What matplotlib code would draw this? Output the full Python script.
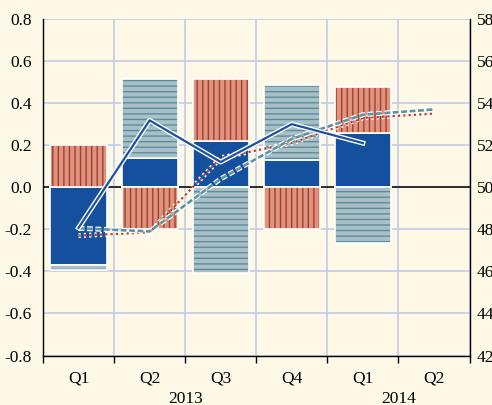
import matplotlib
matplotlib.use('Agg')
import matplotlib.pyplot as plt
import matplotlib.patheffects as pe
from matplotlib.transforms import blended_transform_factory
import numpy as np

# ---- data ----
quarters = ['Q1', 'Q2', 'Q3', 'Q4', 'Q1', 'Q2']
years = ['2013', '2014']
year_centers = [1.5, 4.5]
blue_vals = [-0.37, 0.14, 0.22, 0.13, 0.26]
lightblue_vals = [-0.025, 0.375, -0.41, 0.355, -0.265]
red_vals = [0.20, -0.20, 0.295, -0.20, 0.215]
line_solid = [48.07, 53.18, 51.2, 53.0, 52.1]
line_dotted = [47.7, 47.85, 51.4, 52.1, 53.3, 53.5]
line_dashed = [48.05, 47.9, 50.4, 52.3, 53.45, 53.7]
left_ticks = [-0.8, -0.6, -0.4, -0.2, 0.0, 0.2, 0.4, 0.6, 0.8]
left_labels = ['-0.8', '-0.6', '-0.4', '-0.2', '0.0', '0.2', '0.4', '0.6', '0.8']
right_ticks = [42, 44, 46, 48, 50, 52, 54, 56, 58]
right_labels = ['42', '44', '46', '48', '50', '52', '54', '56', '58']

# ---- style ----
BG = '#fef9e6'
GRID = '#c5cbe6'
BLUE = '#14509e'
RED_FILL = '#d9957f'
RED_HATCH = '#b0382b'
LB_FILL = '#a9bfc8'
LB_HATCH = '#5b8d99'
LINE_BLUE = '#1d4fa3'
LINE_RED = '#c0392b'
LINE_TEAL = '#5a93a3'

plt.rcParams['font.family'] = ['Liberation Serif', 'DejaVu Serif']
plt.rcParams['axes.unicode_minus'] = False
plt.rcParams['hatch.linewidth'] = 1.0

fig = plt.figure(figsize=(4.92, 4.05), dpi=100, facecolor=BG)
L, R, T, B = 43, 469.5, 19, 355.5
ax = fig.add_axes([L / 492, 1 - B / 405, (R - L) / 492, (B - T) / 405])
ax.set_facecolor(BG)

x = np.arange(len(quarters))
width = 0.79

pos_bottom = np.zeros(len(blue_vals))
neg_bottom = np.zeros(len(blue_vals))
xb = x[:len(blue_vals)]

def stack(vals):
    global pos_bottom, neg_bottom
    v = np.array(vals)
    bottoms = np.where(v >= 0, pos_bottom, neg_bottom)
    pos_bottom = pos_bottom + np.where(v >= 0, v, 0)
    neg_bottom = neg_bottom + np.where(v < 0, v, 0)
    return v, bottoms

v, b = stack(blue_vals)
ax.bar(xb, v, bottom=b, width=width, color=BLUE, edgecolor='white', linewidth=1.2, zorder=2)

v, b = stack(lightblue_vals)
ax.bar(xb, v, bottom=b, width=width, color=LB_FILL, edgecolor=LB_HATCH, linewidth=0, hatch='---', zorder=2)
ax.bar(xb, v, bottom=b, width=width, fill=False, edgecolor='white', linewidth=1.2, zorder=2.1)

v, b = stack(red_vals)
ax.bar(xb, v, bottom=b, width=width, color=RED_FILL, edgecolor=RED_HATCH, linewidth=0, hatch='|||', zorder=2)
ax.bar(xb, v, bottom=b, width=width, fill=False, edgecolor='white', linewidth=1.2, zorder=2.1)

ax.axhline(0, color='black', lw=1.1, zorder=1.5)

ax.set_xlim(-0.5, 5.5)
ax.set_ylim(-0.8, 0.8)
ax.set_xticks(np.arange(-0.5, 6.0, 1.0))
ax.set_xticklabels([])
ax.set_xticks(x, minor=True)
ax.set_xticklabels(quarters, minor=True)
ax.tick_params(axis='x', which='major', length=5, width=1.0, direction='out', color='black')
ax.tick_params(axis='x', which='minor', length=0, pad=11, labelsize=12.5)
ax.set_yticks(left_ticks)
ax.set_yticklabels(left_labels)
ax.tick_params(axis='y', length=0, pad=8, labelsize=12.5)
ax.grid(True, which='major', axis='both', color=GRID, lw=1.2, zorder=0)
ax.set_axisbelow(True)

for s in ['top', 'right']:
    ax.spines[s].set_visible(False)
for s in ['left', 'bottom']:
    ax.spines[s].set_color('black')
    ax.spines[s].set_linewidth(1.0)

trans = blended_transform_factory(ax.transData, ax.transAxes)
for yr, xc in zip(years, year_centers):
    ax.text(xc, -0.13, yr, transform=trans, ha='center', va='center', fontsize=12.5)

ax2 = ax.twinx()
ax2.set_ylim(42, 58)
ax2.set_yticks(right_ticks)
ax2.set_yticklabels(right_labels)
ax2.tick_params(axis='y', length=0, pad=5, labelsize=12.5)
for s in ['top', 'left', 'bottom']:
    ax2.spines[s].set_visible(False)
ax2.spines['right'].set_color('black')
ax2.spines['right'].set_linewidth(1.0)

stroke = [pe.withStroke(linewidth=3.6, foreground='white')]
ax2.plot(x[:len(line_dotted)], line_dotted, color=LINE_RED, lw=1.6,
         linestyle=(0, (1, 1.4)), path_effects=stroke, zorder=3)
ax2.plot(x[:len(line_dashed)], line_dashed, color=LINE_TEAL, lw=1.9,
         linestyle=(0, (2.2, 1.0)), path_effects=stroke, zorder=3)
ax2.plot(x[:len(line_solid)], line_solid, color=LINE_BLUE, lw=1.6,
         path_effects=stroke, zorder=4)

fig.savefig('out.png', dpi=100, facecolor=BG)
